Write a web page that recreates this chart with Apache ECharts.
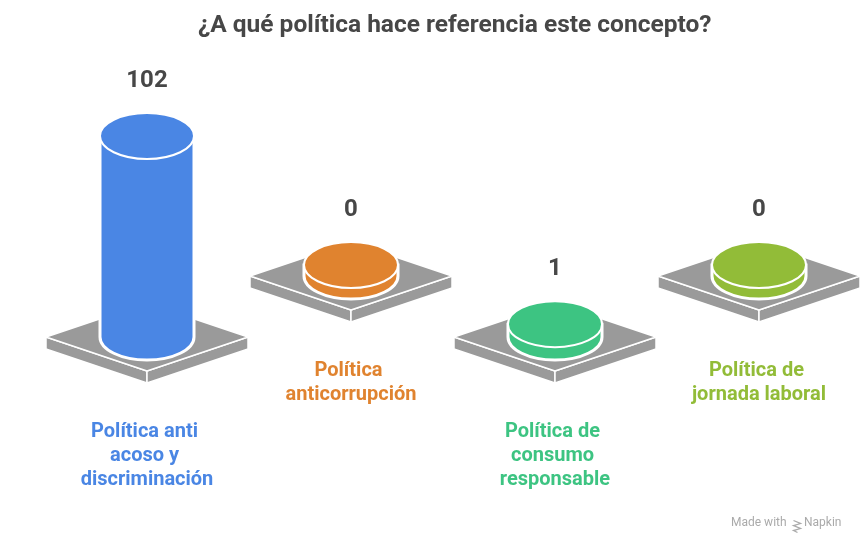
<!DOCTYPE html>
<html>
<head>
<meta charset="utf-8">
<script src="https://cdn.jsdelivr.net/npm/echarts@6/dist/echarts.min.js"></script>
<style>
  html, body { margin: 0; padding: 0; background: #fff; }
  #chart { width: 864px; height: 552px; }
</style>
</head>
<body>
<div id="chart"></div>
<script>
const title = '¿A qué política hace referencia este concepto?'
const categories = [
    'Política anti acoso y discriminación',
    'Política anticorrupción',
    'Política de consumo responsable',
    'Política de jornada laboral'
]
const values = [102, 0, 1, 0]
const colors = ['#4a86e4', '#e0832f', '#3dc482', '#92bc38']

// look of the 3d pieces
const RX = 47, RY = 23          // cylinder ellipse
const STUB = 11                 // minimum cylinder height
const PW = 101, PH = 34, PT = 12 // platform half width, half height, thickness
const STAGGER = -61             // odd items sit higher
const GRAY = '#9a9a9a'

const chart = echarts.init(document.getElementById('chart'))

function renderItem(params, api) {
    const i = api.value(0)
    const v = api.value(1)
    const base = api.coord([i, 0])
    const off = i % 2 ? STAGGER : 0
    const cx = base[0]
    const cy = base[1] + off
    const top = api.coord([i, v])[1] + off - STUB
    const color = colors[i]
    const edge = { stroke: '#fff', lineWidth: 1.5, lineJoin: 'round' }

    return {
        type: 'group',
        children: [
            {
                type: 'polygon',
                shape: { points: [[cx - PW, cy], [cx, cy + PH], [cx, cy + PH + PT], [cx - PW, cy + PT]] },
                style: Object.assign({ fill: GRAY }, edge)
            },
            {
                type: 'polygon',
                shape: { points: [[cx + PW, cy], [cx, cy + PH], [cx, cy + PH + PT], [cx + PW, cy + PT]] },
                style: Object.assign({ fill: GRAY }, edge)
            },
            {
                type: 'polygon',
                shape: { points: [[cx - PW, cy], [cx, cy - PH], [cx + PW, cy], [cx, cy + PH]] },
                style: Object.assign({ fill: GRAY }, edge)
            },
            {
                type: 'path',
                shape: {
                    pathData: 'M' + (cx - RX) + ' ' + top +
                        ' L' + (cx - RX) + ' ' + cy +
                        ' A' + RX + ' ' + RY + ' 0 0 0 ' + (cx + RX) + ' ' + cy +
                        ' L' + (cx + RX) + ' ' + top + ' Z'
                },
                style: { fill: color, stroke: '#fff', lineWidth: 3 }
            },
            {
                type: 'ellipse',
                shape: { cx: cx, cy: top, rx: RX, ry: RY },
                style: { fill: color, stroke: '#fff', lineWidth: 2 }
            },
            {
                type: 'text',
                style: {
                    text: String(v),
                    x: cx, y: top - 55,
                    align: 'center', verticalAlign: 'middle',
                    fontFamily: 'Roboto', fontWeight: 'bold', fontSize: 24,
                    fill: '#474747'
                }
            },
            {
                type: 'text',
                style: {
                    text: categories[i],
                    x: cx, y: cy + 83,
                    width: 150, overflow: 'break',
                    align: 'center', verticalAlign: 'top',
                    lineHeight: 24,
                    fontFamily: 'Roboto', fontWeight: 'bold', fontSize: 20,
                    fill: color
                }
            }
        ]
    }
}

chart.setOption({
    animation: false,
    title: {
        text: title,
        left: 193,
        top: 8,
        textStyle: { fontFamily: 'Roboto', fontWeight: 'bold', fontSize: 24.5, color: '#474747' }
    },
    grid: { left: 45, right: 3, top: 147, bottom: 215 },
    xAxis: { type: 'category', data: categories, show: false },
    yAxis: { type: 'value', min: 0, max: 102, show: false },
    series: [{
        type: 'custom',
        renderItem,
        data: values.map((v, i) => [i, v]),
        clip: false
    }],
    graphic: [
        {
            type: 'text', left: 731, top: 517,
            style: { text: 'Made with', fontFamily: 'Roboto', fontSize: 12, fill: '#aaaaaa' }
        },
        {
            type: 'polyline', left: 791, top: 518,
            shape: { points: [[0, 0], [7, 3], [0, 5], [7, 8], [0, 10], [4, 12]] },
            style: { stroke: '#aaaaaa', lineWidth: 1.3, fill: null }
        },
        {
            type: 'text', left: 804, top: 517,
            style: { text: 'Napkin', fontFamily: 'Roboto', fontSize: 12, fill: '#aaaaaa' }
        }
    ]
})
</script>
</body>
</html>
